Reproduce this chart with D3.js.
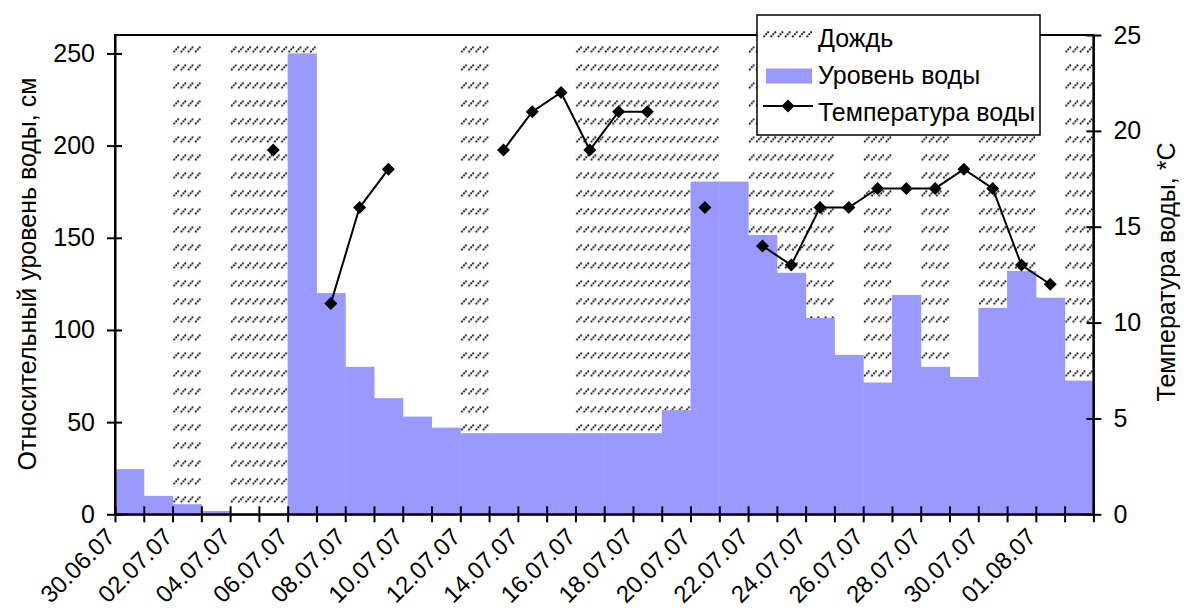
<!DOCTYPE html>
<html>
<head>
<meta charset="utf-8">
<script src="https://cdn.jsdelivr.net/npm/d3@7"></script>
<style>
  body { margin: 0; background: #fff; }
  svg text { font-family: "Liberation Sans", Arial, sans-serif; fill: #000; }
</style>
</head>
<body>
<div id="chart"></div>
<script>
// days 30.06.07 .. 02.08.07
var dates = ["30.06.07","01.07.07","02.07.07","03.07.07","04.07.07","05.07.07","06.07.07","07.07.07",
  "08.07.07","09.07.07","10.07.07","11.07.07","12.07.07","13.07.07","14.07.07","15.07.07","16.07.07",
  "17.07.07","18.07.07","19.07.07","20.07.07","21.07.07","22.07.07","23.07.07","24.07.07","25.07.07",
  "26.07.07","27.07.07","28.07.07","29.07.07","30.07.07","31.07.07","01.08.07","02.08.07"];

// water level, cm (left axis)
var level = [24.5, 10, 5.5, 1.8, 0, 0, 250, 120, 80, 63, 53, 47, 44, 44, 44, 44, 44, 44, 44, 56.5,
  180.5, 180.5, 151.5, 131, 106.5, 86.5, 71.5, 119, 80, 74.5, 112, 132, 117.5, 72.5];

// water temperature, *C (right axis), null = no measurement
var temp = [null, null, null, null, null, 19, null, 11, 16, 18, null, null, null, 19, 21, 22, 19, 21, 21, null,
  16, null, 14, 13, 16, 16, 17, 17, 17, 18, 17, 13, 12, null];

// rain days (hatched band height on left axis)
var rain = [0, 0, 255, 0, 255, 255, 255, 0, 0, 0, 0, 0, 255, 0, 0, 0, 255, 255, 255, 255,
  255, 0, 255, 255, 255, 0, 255, 0, 255, 0, 255, 255, 0, 255];

var leftTicks = [0, 50, 100, 150, 200, 250];
var rightTicks = [0, 5, 10, 15, 20, 25];

var width = 1184, height = 610;
var pL = 115, pR = 1093.4, pT = 35, pB = 514.3;
var fontSize = "25px";

var svg = d3.select("#chart").append("svg")
  .attr("width", width)
  .attr("height", height);

var x = d3.scaleBand().domain(d3.range(dates.length)).range([pL, pR]).padding(0);
var xEdge = d3.scaleLinear().domain([0, dates.length]).range([pL, pR]);
var yL = d3.scaleLinear().domain([0, 260]).range([pB, pT]);
var yR = d3.scaleLinear().domain([0, 25]).range([pB, pT]);

/* hatch patterns */
var defs = svg.append("defs");
function hatch(id, y0) {
  var p = defs.append("pattern")
    .attr("id", id)
    .attr("patternUnits", "userSpaceOnUse")
    .attr("x", pL).attr("y", y0)
    .attr("width", x.bandwidth() / 4).attr("height", 18);
  p.append("line")
    .attr("x1", 1).attr("y1", 7).attr("x2", 6.2).attr("y2", 1.5)
    .attr("stroke", "#1a1a1a").attr("stroke-width", 1.9)
    .attr("stroke-dasharray", "2 0.9");
}
hatch("rain", yL(255) + 1);
hatch("rainLegend", 30);

/* rain bands */
svg.append("g").selectAll("rect")
  .data(rain).enter()
  .append("rect")
  .attr("x", (d, i) => x(i))
  .attr("y", d => yL(d))
  .attr("width", x.bandwidth() + 0.3)
  .attr("height", d => pB - yL(d))
  .attr("fill", "url(#rain)");

/* water level bars */
svg.append("g").selectAll("rect")
  .data(level).enter()
  .append("rect")
  .attr("x", (d, i) => x(i))
  .attr("y", d => yL(d))
  .attr("width", x.bandwidth() + 0.5)
  .attr("height", d => pB - yL(d))
  .attr("fill", "#9999ff");

/* temperature line */
var line = d3.line()
  .defined(d => d != null)
  .x((d, i) => x(i) + x.bandwidth() / 2)
  .y(d => yR(d));

svg.append("path")
  .datum(temp)
  .attr("d", line)
  .attr("fill", "none")
  .attr("stroke", "#000")
  .attr("stroke-width", 2);

var diamond = "M0,-6.5L6.5,0L0,6.5L-6.5,0Z";
svg.append("g").selectAll("path")
  .data(temp.map((d, i) => ({ v: d, i: i })).filter(d => d.v != null))
  .enter().append("path")
  .attr("d", diamond)
  .attr("transform", d => `translate(${x(d.i) + x.bandwidth() / 2},${yR(d.v)})`)
  .attr("fill", "#000");

/* frame */
svg.append("rect")
  .attr("x", pL).attr("y", pT)
  .attr("width", pR - pL).attr("height", pB - pT)
  .attr("fill", "none").attr("stroke", "#000").attr("stroke-width", 2);

/* axes */
var axL = svg.append("g")
  .attr("transform", `translate(${pL},0)`)
  .call(d3.axisLeft(yL).tickValues(leftTicks).tickSizeInner(8).tickSizeOuter(0).tickPadding(12));
axL.selectAll(".tick line").attr("x1", 7);

var axR = svg.append("g")
  .attr("transform", `translate(${pR},0)`)
  .call(d3.axisRight(yR).tickValues(rightTicks).tickSizeInner(8).tickSizeOuter(0).tickPadding(12));
axR.selectAll(".tick line").attr("x1", -7);

var axB = svg.append("g")
  .attr("transform", `translate(0,${pB})`)
  .call(d3.axisBottom(xEdge).tickValues(d3.range(dates.length + 1)).tickSizeInner(8).tickSizeOuter(0)
    .tickFormat(i => (i % 2 === 0 && i < dates.length) ? dates[i] : ""));
axB.selectAll(".tick line").attr("y1", -8);
axB.selectAll(".tick text")
  .attr("x", 0).attr("y", 0).attr("dy", 0)
  .attr("transform", "translate(1,24) rotate(-45)")
  .style("text-anchor", "end");

[axL, axR, axB].forEach(function(a) {
  a.selectAll(".domain").attr("stroke", "#000").attr("stroke-width", 2);
  a.selectAll(".tick line").attr("stroke", "#000").attr("stroke-width", 2);
  a.selectAll("text").style("font-size", fontSize).attr("fill", "#000");
});
axB.selectAll("text").style("font-size", "24px");

/* axis titles */
svg.append("text")
  .attr("transform", "translate(36,274) rotate(-90)")
  .style("text-anchor", "middle")
  .style("font-size", fontSize)
  .text("Относительный уровень воды, см");

svg.append("text")
  .attr("transform", "translate(1175,272) rotate(-90)")
  .style("text-anchor", "middle")
  .style("font-size", fontSize)
  .text("Температура воды, *C");

/* legend */
var legend = svg.append("g");
legend.append("rect")
  .attr("x", 757).attr("y", 15).attr("width", 283).attr("height", 120)
  .attr("fill", "#fff").attr("stroke", "#000").attr("stroke-width", 1.5);

legend.append("rect")
  .attr("x", 763).attr("y", 30).attr("width", 49).attr("height", 8)
  .attr("fill", "url(#rainLegend)");
legend.append("rect")
  .attr("x", 766).attr("y", 68.5).attr("width", 46).attr("height", 15)
  .attr("fill", "#9999ff");
legend.append("line")
  .attr("x1", 763).attr("x2", 813).attr("y1", 106).attr("y2", 106)
  .attr("stroke", "#000").attr("stroke-width", 2);
legend.append("path")
  .attr("d", diamond)
  .attr("transform", "translate(788,106)");

var legendNames = ["Дождь", "Уровень воды", "Температура воды"];
legend.selectAll("text.lg")
  .data(legendNames).enter()
  .append("text")
  .attr("class", "lg")
  .attr("x", 818)
  .attr("y", (d, i) => 47 + i * 37)
  .style("font-size", fontSize)
  .text(d => d);
</script>
</body>
</html>
